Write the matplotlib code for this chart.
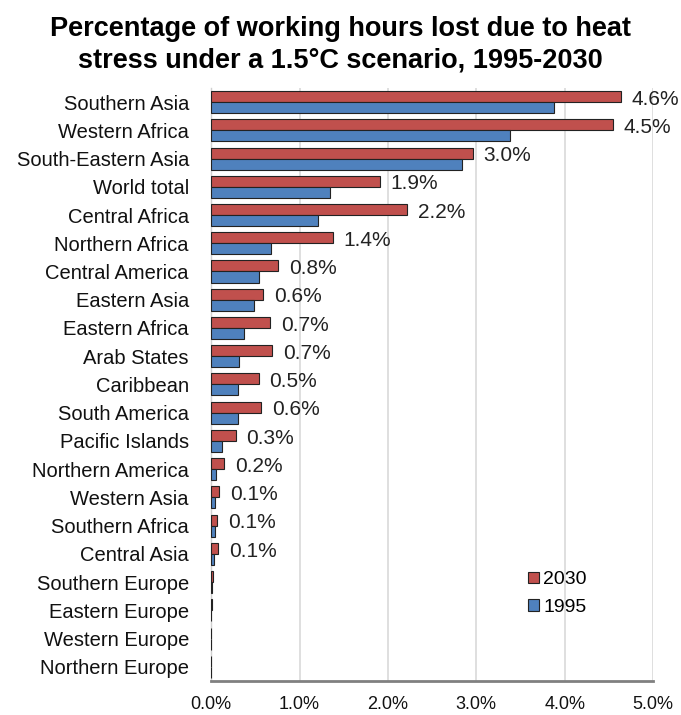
import numpy as np
import matplotlib
matplotlib.use("Agg")
import matplotlib.pyplot as plt

plt.rcParams['font.family'] = ['Liberation Sans', 'DejaVu Sans']

regions = ["Southern Asia", "Western Africa", "South-Eastern Asia", "World total",
           "Central Africa", "Northern Africa", "Central America", "Eastern Asia",
           "Eastern Africa", "Arab States", "Caribbean", "South America",
           "Pacific Islands", "Northern America", "Western Asia", "Southern Africa",
           "Central Asia", "Southern Europe", "Eastern Europe", "Western Europe",
           "Northern Europe"]
loss_2030 = [4.64, 4.55, 2.96, 1.91, 2.22, 1.38, 0.76, 0.59, 0.67, 0.69, 0.54,
             0.57, 0.28, 0.15, 0.09, 0.07, 0.08, 0.02, 0.005, 0.0, 0.0]
loss_1995 = [3.88, 3.38, 2.84, 1.34, 1.21, 0.68, 0.54, 0.48, 0.37, 0.32, 0.30,
             0.30, 0.12, 0.06, 0.04, 0.04, 0.03, 0.01, 0.003, 0.0, 0.0]
value_labels = ["4.6%", "4.5%", "3.0%", "1.9%", "2.2%", "1.4%", "0.8%", "0.6%",
                "0.7%", "0.7%", "0.5%", "0.6%", "0.3%", "0.2%", "0.1%", "0.1%",
                "0.1%", "", "", "", ""]

RED = "#C0504D"
BLUE = "#4F81BD"

fig = plt.figure(figsize=(6.81, 7.15), dpi=100)
ax = fig.add_axes([0.31, 0.0476, 0.649, 0.8294])

y = np.arange(len(regions))
h = 0.39
ax.barh(y - h / 2, loss_2030, height=h, color=RED, edgecolor="#222222",
        linewidth=0.8, label="2030", zorder=3)
ax.barh(y + h / 2, loss_1995, height=h, color=BLUE, edgecolor="#222222",
        linewidth=0.8, label="1995", zorder=3)

for yi, v, txt in zip(y, loss_2030, value_labels):
    if txt:
        ax.text(v + 0.12, yi - 0.1, txt, va="center", ha="left",
                fontsize=15, color="#222222")

ax.set_ylim(len(regions) - 0.5, -0.5)
ax.set_xlim(0, 5.0)
ax.set_yticks(y)
ax.set_yticklabels(regions, fontsize=14.5, color="#111111")
ax.set_xticks(np.arange(0, 5.01, 1.0))
ax.set_xticklabels([f"{t:.1f}%" for t in np.arange(0, 5.01, 1.0)],
                   fontsize=13, color="#111111")
ax.tick_params(axis="y", length=0, pad=16)
ax.tick_params(axis="x", length=0, pad=11)

ax.grid(axis="x", color="#d9d9d9", linewidth=1.2, zorder=0)
for side in ["top", "right"]:
    ax.spines[side].set_visible(False)
ax.spines["left"].set_color("#d0d0d0")
ax.spines["left"].set_linewidth(1.0)
ax.spines["bottom"].set_color("#808080")
ax.spines["bottom"].set_linewidth(2.0)

ax.legend(loc="upper left", bbox_to_anchor=(0.718, 0.185), frameon=False,
          fontsize=14, handlelength=0.55, handleheight=0.55, handletextpad=0.2,
          labelspacing=0.55, borderpad=0, borderaxespad=0)

fig.text(0.5, 0.978, "Percentage of working hours lost due to heat\n"
         "stress under a 1.5\u00b0C scenario, 1995-2030",
         ha="center", va="top", fontsize=19.5, fontweight="bold",
         linespacing=1.3)

fig.savefig("out.png", dpi=100)
